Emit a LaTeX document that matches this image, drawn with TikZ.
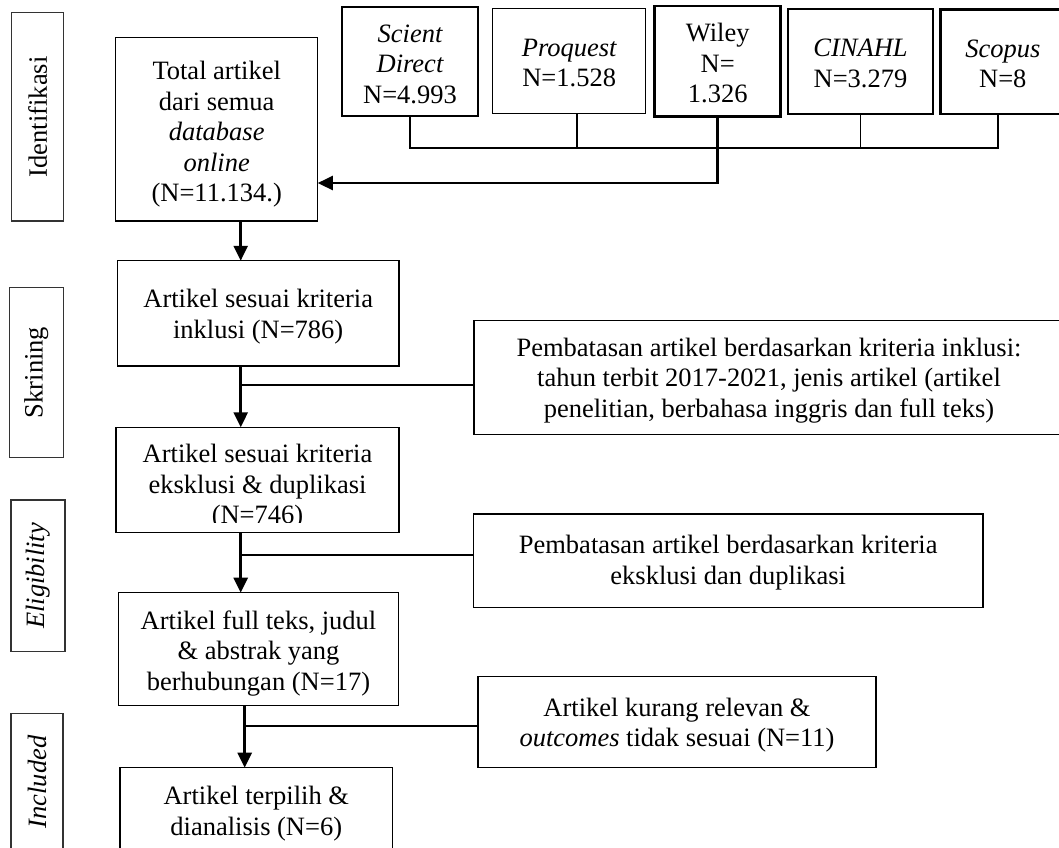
\documentclass[tikz,border=0pt]{standalone}
\usepackage{fontspec}
\setmainfont{Liberation Serif}
\usetikzlibrary{arrows.meta}
\begin{document}
\begin{tikzpicture}[x=1pt,y=-1pt,
  every node/.style={font=\fontsize{26.5}{30.5}\selectfont, inner sep=0pt, outer sep=0pt, align=center},
  box/.style={draw=black, line width=1.2pt},
  midbox/.style={draw=black, line width=1.7pt},
  thickbox/.style={draw=black, line width=2.6pt},
  side/.style={draw=black!80, line width=1.2pt, rotate=90},
  conn/.style={line width=1.6pt},
  arr/.style={line width=2.6pt, -{Triangle[length=15pt,width=14pt]}},
]
\useasboundingbox (0,0) rectangle (1059,847);
\clip (0,0) rectangle (1059,847);

% side labels
\node[side, minimum width=208.3pt, minimum height=51.8pt] (sid) at (37.7,116.9) {Identifikasi};
\node[side, minimum width=169.6pt, minimum height=53.7pt] (sskr) at (36.4,372.5) {Skrining};
\node[side, minimum width=151.7pt, minimum height=54pt] (selig) at (38,575.9) {\itshape Eligibility};
\node[side, minimum width=137pt, minimum height=52pt] (sinc) at (37,782) {\itshape Included};

% database boxes
\node[midbox, minimum width=136.6pt, minimum height=109.3pt] (scient) at (410,61.3) {};
\node (scientt) at ([yshift=-3pt]scient.center) {\itshape Scient\\\itshape Direct\\N=4.993};
\node[box, line width=1.5pt, minimum width=153pt, minimum height=105pt] (proquest) at (569.2,60.8) {};
\node (proquestt) at ([yshift=-2pt]proquest.center) {\itshape Proquest\\N=1.528};
\node[thickbox, minimum width=126pt, minimum height=110.7pt] (wiley) at (717.7,61.3) {};
\node (wileyt) at ([yshift=-2pt]wiley.center) {Wiley\\N=\\1.326};
\node[thickbox, minimum width=145pt, minimum height=105pt] (cinahl) at (860.5,61.5) {};
\node (cinahlt) at ([yshift=-2pt]cinahl.center) {\itshape CINAHL\\N=3.279};
\node[thickbox, minimum width=124.3pt, minimum height=104.7pt] (scopus) at (1002.8,61.7) {};
\node (scopust) at ([yshift=-2pt]scopus.center) {\itshape Scopus\\N=8};

% main column
\node[box, minimum width=202.2pt, minimum height=183.7pt] (total) at (216.7,129.2) {};
\node (totalt) at ([yshift=-5pt]total.center) {Total artikel\\dari semua\\\itshape database\\\itshape online\\(N=11.134.)};
\node[box, minimum width=281.7pt, minimum height=105.3pt] (inkl) at (258.2,313.4) {};
\node (inklt) at ([yshift=-3pt]inkl.center) {Artikel sesuai kriteria\\inklusi (N=786)};
\node[box, minimum width=283pt, minimum height=105.4pt] (eksk) at (257.5,480) {};
\begin{scope}
  \clip (116,427.3) rectangle (399,522);
  \node[anchor=north] (ekskt) at (257.5,444.5) {Artikel sesuai kriteria\\eksklusi \& duplikasi\\(N=746)};
\end{scope}
\node[box, minimum width=280pt, minimum height=113pt] (full) at (258.5,649.2) {};
\node (fullt) at ([yshift=-4pt]full.center) {Artikel full teks, judul\\\& abstrak yang\\berhubungan (N=17)};
\node[box, minimum width=272.6pt, minimum height=88.3pt] (pilih) at (256.3,811.8) {};
\node (piliht) at ([yshift=-2pt]pilih.center) {Artikel terpilih \&\\dianalisis (N=6)};

% right side boxes
\node[box, minimum width=590pt, minimum height=113.6pt] (p1) at (769,377.5) {};
\node (p1t) at ([yshift=-3pt]p1.center) {Pembatasan artikel berdasarkan kriteria inklusi:\\tahun terbit 2017-2021, jenis artikel (artikel\\penelitian, berbahasa inggris dan full teks)};
\node[box, minimum width=509.6pt, minimum height=93.3pt] (p2) at (728.2,560.7) {};
\node (p2t) at ([yshift=-2pt]p2.center) {Pembatasan artikel berdasarkan kriteria\\eksklusi dan duplikasi};
\node[box, minimum width=398pt, minimum height=91pt] (p3) at (677,722.2) {};
\node (p3t) at ([yshift=-3pt]p3.center) {Artikel kurang relevan \&\\\itshape outcomes\upshape{} tidak sesuai (N=11)};

% database bus
\coordinate (busL) at (410,147.7);
\coordinate (busR) at (998,147.7);
\coordinate (wk) at (717.7,183);
\draw[conn] (scient.south) -- (busL) -- (busR) -- (busR |- scopus.south);
\draw[conn] ([xshift=7.5pt]proquest.south) -- ([xshift=7.5pt]proquest.south |- busL);
\draw[conn] (cinahl.south) -- (cinahl.south |- busL);
\draw[arr] (wiley.south) -- (wk) -- (wk -| total.east);

% vertical flow
\coordinate (a1) at (240.7,221);
\draw[arr] (a1 |- total.south) -- (a1 |- inkl.north);
\coordinate (j1) at (240.7,385);
\draw[arr] (j1 |- inkl.south) -- (j1 |- eksk.north);
\draw[conn] (j1) -- (j1 -| p1.west);
\coordinate (j2) at (240.7,555);
\draw[arr] (j2 |- eksk.south) -- (j2 |- full.north);
\draw[conn] (j2) -- (j2 -| p2.west);
\coordinate (j3) at (244.7,726);
\draw[arr] (j3 |- full.south) -- (j3 |- pilih.north);
\draw[conn] (j3) -- (j3 -| p3.west);
\end{tikzpicture}
\end{document}
